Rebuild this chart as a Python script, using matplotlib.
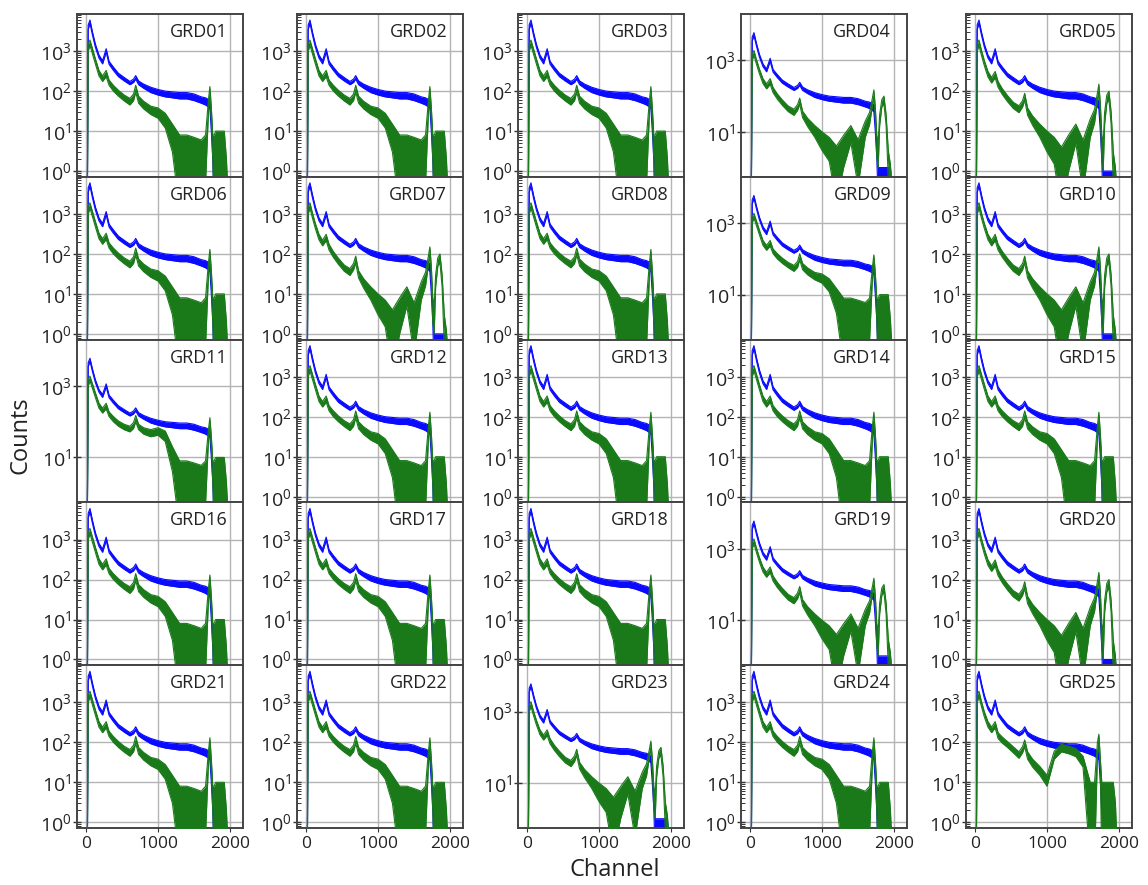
import numpy as np
import matplotlib
matplotlib.use("Agg")
import matplotlib.pyplot as plt
from matplotlib.ticker import LogLocator, LogFormatterMathtext, NullFormatter

plt.rcParams['font.family'] = ['Open Sans', 'DejaVu Sans']
plt.rcParams['mathtext.fontset'] = 'custom'
plt.rcParams['mathtext.rm'] = 'Open Sans'
plt.rcParams['mathtext.it'] = 'Open Sans:italic'

# channel nodes
chan = [0, 18, 30, 55, 90, 130, 180, 230, 280, 320, 380, 450, 530, 610, 660, 690, 730, 800, 900, 1000,
        1100, 1200, 1300, 1400, 1500, 1600, 1660, 1700, 1720, 1740, 1760, 1780, 1800, 1830, 1860, 1890,
        1920, 1950, 1980]

# blue spectrum (upper / lower edge of the noisy trace)
blue_hi = [0.1, 0.1, 4500, 6000, 3000, 1500, 800, 580, 1150, 560, 400, 280, 220, 175, 200, 245, 180, 150, 125,
           110, 100, 96, 92, 92, 85, 72, 68, 62, 56, 25, 4, 1.0, 1.0, 1.0, 1.0, 1.0, 1.0, 1.0, 0.1]
blue_lo = [0.1, 0.1, 3500, 5000, 2500, 1250, 670, 480, 950, 470, 330, 230, 180, 145, 165, 200, 145, 118, 92,
           80, 72, 68, 64, 64, 58, 50, 45, 40, 36, 10, 2, 0.1, 0.1, 0.1, 0.1, 0.1, 0.1, 0.1, 0.1]

# green spectra, four shapes seen in the panels
green_a_hi = [0.1, 0.1, 1500, 1900, 1150, 650, 330, 240, 330, 190, 140, 105, 80, 66, 85, 140, 75, 56, 42, 38,
              28, 15, 8, 8, 7, 6, 8, 60, 130, 40, 8, 8, 10, 10, 10, 10, 10, 2, 0.1]
green_a_lo = [0.1, 0.1, 1000, 1400, 850, 480, 240, 175, 230, 140, 100, 75, 57, 45, 58, 95, 50, 36, 26, 21,
              12, 3, 0.1, 0.1, 0.1, 0.1, 0.5, 30, 80, 20, 2, 0.1, 0.1, 0.1, 0.1, 0.1, 0.1, 0.1, 0.1]

green_b_hi = [0.1, 0.1, 1500, 1900, 1050, 580, 310, 220, 310, 175, 115, 78, 53, 43, 58, 88, 38, 24, 15, 10,
              7, 4, 8, 15, 6, 20, 35, 90, 150, 50, 8, 5, 30, 80, 100, 30, 3, 1.2, 0.1]
green_b_lo = [0.1, 0.1, 1000, 1400, 780, 430, 225, 160, 215, 125, 82, 55, 37, 29, 40, 60, 25, 14, 7, 3,
              1.5, 0.1, 1, 5, 0.3, 7, 16, 55, 95, 25, 2, 1, 15, 50, 60, 15, 0.5, 0.1, 0.1]

green_c_hi = [0.1, 0.1, 1500, 1900, 1150, 650, 330, 240, 330, 190, 140, 105, 85, 75, 95, 150, 85, 68, 60, 68,
              55, 20, 8, 8, 7, 6, 8, 60, 130, 40, 8, 8, 10, 10, 10, 10, 10, 2, 0.1]
green_c_lo = [0.1, 0.1, 1000, 1400, 850, 480, 240, 175, 230, 140, 100, 75, 60, 52, 65, 100, 60, 45, 38, 42,
              28, 4, 0.1, 0.1, 0.1, 0.1, 0.5, 30, 80, 20, 2, 0.1, 0.1, 0.1, 0.1, 0.1, 0.1, 0.1, 0.1]

green_d_hi = [0.1, 0.1, 1500, 1900, 1050, 580, 330, 240, 330, 175, 135, 105, 78, 58, 78, 115, 58, 38, 25, 15,
              60, 90, 80, 70, 45, 10, 10, 100, 160, 40, 10, 10, 10, 10, 10, 10, 10, 3, 0.1]
green_d_lo = [0.1, 0.1, 1000, 1400, 780, 430, 240, 175, 230, 125, 95, 75, 55, 40, 55, 78, 38, 24, 15, 8,
              38, 58, 52, 44, 24, 0.1, 0.1, 50, 90, 20, 0.1, 0.1, 0.1, 0.1, 0.1, 0.1, 0.1, 0.1, 0.1]

green_shapes = {'A': (green_a_lo, green_a_hi), 'B': (green_b_lo, green_b_hi),
                'C': (green_c_lo, green_c_hi), 'D': (green_d_lo, green_d_hi)}

panel_names = ['GRD%02d' % i for i in range(1, 26)]
panel_shape = ['A', 'A', 'A', 'B', 'B',
               'A', 'B', 'A', 'A', 'B',
               'C', 'A', 'A', 'A', 'A',
               'A', 'A', 'A', 'B', 'B',
               'A', 'A', 'B', 'A', 'D']
wide_panels = ['GRD04', 'GRD09', 'GRD11', 'GRD19', 'GRD23']

W, H = 1148, 885
col_left = [77, 297, 518, 741, 966]
col_w = 166
row_top = 14
row_h = 162.8

fig = plt.figure(figsize=(W / 100, H / 100), dpi=100)
blue_c = '#0a0aff'
green_c = '#1a7a1a'

for i, name in enumerate(panel_names):
    r, c = divmod(i, 5)
    ax = fig.add_axes([col_left[c] / W, 1 - (row_top + (r + 1) * row_h) / H, col_w / W, row_h / H])
    g_lo, g_hi = green_shapes[panel_shape[i]]

    ax.fill_between(chan, blue_lo, blue_hi, color=blue_c, lw=0, zorder=2)
    ax.plot(chan, blue_hi, color=blue_c, lw=0.8, zorder=2)
    ax.plot(chan, blue_lo, color=blue_c, lw=0.8, zorder=2)
    ax.fill_between(chan, g_lo, g_hi, color=green_c, lw=0, zorder=3)
    ax.plot(chan, g_hi, color=green_c, lw=0.8, zorder=3)
    ax.plot(chan, g_lo, color=green_c, lw=0.8, zorder=3)

    ax.set_yscale('log')
    ax.set_xlim(-125, 2180)
    if name in wide_panels:
        ax.set_ylim(0.55, 20000)
        ax.set_yticks([10, 1000])
    else:
        ax.set_ylim(0.72, 8500)
        ax.set_yticks([1, 10, 100, 1000])
    ax.yaxis.set_major_formatter(LogFormatterMathtext())
    ax.yaxis.set_minor_locator(LogLocator(base=10, subs=np.arange(2, 10)))
    ax.yaxis.set_minor_formatter(NullFormatter())
    ax.set_xticks([0, 1000, 2000])

    ax.grid(True, which='major', color='#b4b4b4', lw=1.0)
    ax.set_axisbelow(True)
    ax.tick_params(axis='y', which='major', direction='inout', length=6, width=1.0,
                   labelsize=14, pad=1, colors='#333333', labelcolor='#222222')
    ax.tick_params(axis='y', which='minor', direction='in', length=3, width=0.7, colors='#333333')
    if r == 4:
        ax.tick_params(axis='x', direction='out', length=3, labelsize=12.5, colors='#333333',
                       labelcolor='#222222', pad=3)
    else:
        ax.tick_params(axis='x', length=0, labelbottom=False)
    for sp in ax.spines.values():
        sp.set_color('#444444')
        sp.set_linewidth(1.4)

    ax.text(0.905, 0.945, name, transform=ax.transAxes, ha='right', va='top',
            fontsize=13, color='#222222', zorder=5)

fig.text(20 / W, 1 - 435 / H, 'Counts', rotation=90, ha='center', va='center', fontsize=17, color='#222222')
fig.text(615 / W, 1 - 870 / H, 'Channel', ha='center', va='center', fontsize=17, color='#222222')

fig.savefig('out.png', dpi=100)
